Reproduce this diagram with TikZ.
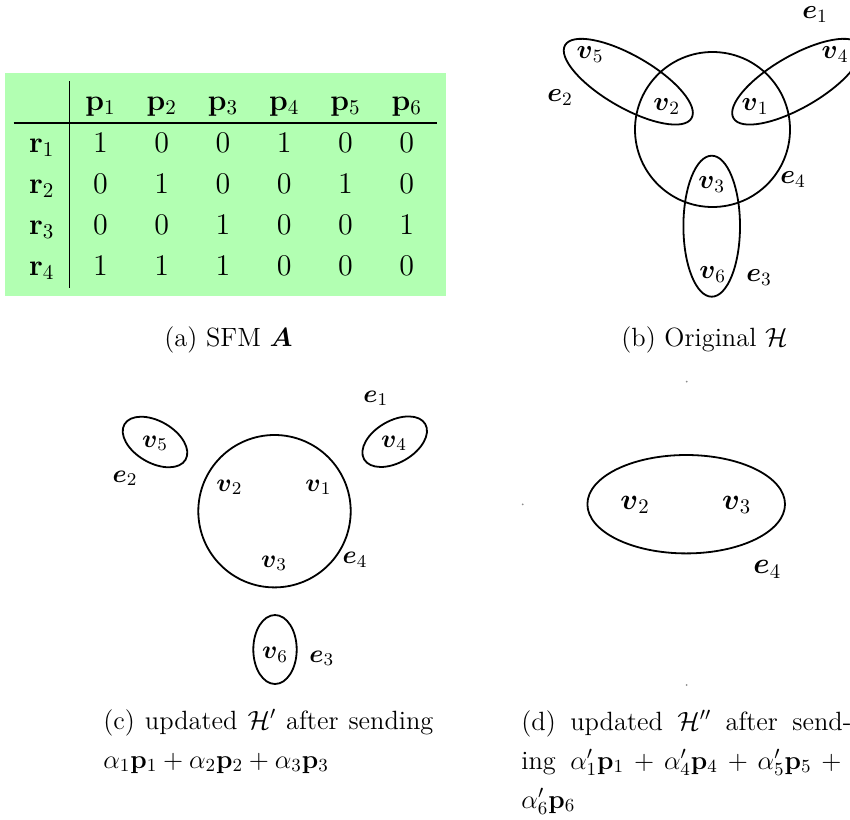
\documentclass[tikz,border=0pt]{standalone}
\usepackage{fix-cm}
\usepackage{amsmath,amssymb}
\usepackage{tikz}
\usepackage{xcolor}
\usetikzlibrary{shapes.geometric}

\begin{document}
\begin{tikzpicture}[x=0.5pt, y=-0.5pt,
    hedge/.style={draw, line width=0.9pt, inner sep=0pt},
    lbl/.style={inner sep=0pt, font=\fontsize{#1}{#1}\selectfont},
    lbl/.default=13.4,
    capline/.style={inner sep=0pt, anchor=base, font=\fontsize{13.2}{19.5}\selectfont},
    captext/.style={inner sep=0pt, anchor=base west, align=justify, text width=165pt, font=\fontsize{13.2}{19.5}\selectfont}]

    \useasboundingbox (0,0) rectangle (850,819);

    % (a) SFM
    \node[fill=green!30, inner sep=4.4pt, font=\fontsize{15}{20.5}\selectfont] (sfm) at (225.5,184.5) {%
      \arraycolsep=7.75pt \arrayrulewidth=0.6pt
      $\begin{array}{c|cccccc}
        & \mathbf{p}_1 & \mathbf{p}_2 & \mathbf{p}_3 & \mathbf{p}_4 & \mathbf{p}_5 & \mathbf{p}_6\\ \hline
        \mathbf{r}_1 & 1 & 0 & 0 & 1 & 0 & 0\\
        \mathbf{r}_2 & 0 & 1 & 0 & 0 & 1 & 0\\
        \mathbf{r}_3 & 0 & 0 & 1 & 0 & 0 & 1\\
        \mathbf{r}_4 & 1 & 1 & 1 & 0 & 0 & 0
      \end{array}$};
    \node[capline] (capa) at (228.5,346) {(a) SFM $\boldsymbol{A}$};

    % (b) original hypergraph
    \node[hedge, circle, minimum size=77.5pt] (be4) at (712.5,129.5) {};
    \node[hedge, ellipse, minimum width=73pt, minimum height=26pt, rotate=-30] (be2) at (628.3,81.7) {};
    \node[hedge, ellipse, minimum width=73pt, minimum height=26pt, rotate=30] (be1) at (796.7,81.7) {};
    \node[hedge, ellipse, minimum width=28.3pt, minimum height=70.5pt] (be3) at (711.7,226.2) {};
    \node[lbl] (bv5) at (590,55) {$\boldsymbol{v}_5$};
    \node[lbl] (bv2) at (666.7,106.7) {$\boldsymbol{v}_2$};
    \node[lbl] (bv1) at (755,106.7) {$\boldsymbol{v}_1$};
    \node[lbl] (bv4) at (835,55) {$\boldsymbol{v}_4$};
    \node[lbl] (bv3) at (711.7,185) {$\boldsymbol{v}_3$};
    \node[lbl] (bv6) at (712.7,275) {$\boldsymbol{v}_6$};
    \node[lbl] (bl1) at (815,15) {$\boldsymbol{e}_1$};
    \node[lbl] (bl2) at (560,98) {$\boldsymbol{e}_2$};
    \node[lbl] (bl4) at (793,180) {$\boldsymbol{e}_4$};
    \node[lbl] (bl3) at (759,278) {$\boldsymbol{e}_3$};
    \node[capline] (capb) at (704.5,346) {(b) Original $\mathcal{H}$};

    % (c) after first round
    \node[hedge, circle, minimum size=76.2pt] (ce4) at (274.5,511.2) {};
    \node[hedge, ellipse, minimum width=35.3pt, minimum height=20.9pt, rotate=-30] (ce2) at (155,442) {};
    \node[hedge, ellipse, minimum width=35.3pt, minimum height=20.9pt, rotate=30] (ce1) at (394.7,441.7) {};
    \node[hedge, ellipse, minimum width=21.7pt, minimum height=34.5pt] (ce3) at (275,649.5) {};
    \node[lbl=12.8] (cv5) at (155,443.3) {$\boldsymbol{v}_5$};
    \node[lbl=12.8] (cv2) at (229.3,487.3) {$\boldsymbol{v}_2$};
    \node[lbl=12.8] (cv1) at (318.3,487.3) {$\boldsymbol{v}_1$};
    \node[lbl=12.8] (cv4) at (394,443.3) {$\boldsymbol{v}_4$};
    \node[lbl=12.8] (cv3) at (274,563.3) {$\boldsymbol{v}_3$};
    \node[lbl=12.8] (cv6) at (275,655) {$\boldsymbol{v}_6$};
    \node[lbl=12.8] (cl1) at (375.7,398.3) {$\boldsymbol{e}_1$};
    \node[lbl=12.8] (cl2) at (125,478.3) {$\boldsymbol{e}_2$};
    \node[lbl=12.8] (cl4) at (355,560) {$\boldsymbol{e}_4$};
    \node[lbl=12.8] (cl3) at (321.7,658.3) {$\boldsymbol{e}_3$};
    \node[captext] (capc) at (103,729) {(c) updated $\mathcal{H}'$ after sending\linebreak
      $\alpha_1\mathbf{p}_1+\alpha_2\mathbf{p}_2+\alpha_3\mathbf{p}_3$};

    % (d) after second round
    \fill[black!45] (686.7,381.7) circle (0.5pt);
    \fill[black!45] (522.7,504.3) circle (0.5pt);
    \fill[black!45] (686.7,685) circle (0.5pt);
    \node[hedge, ellipse, minimum width=98.8pt, minimum height=49.2pt] (de4) at (686.2,504.2) {};
    \node[lbl=14.8] (dv2) at (635,505) {$\boldsymbol{v}_2$};
    \node[lbl=14.8] (dv3) at (736.7,505) {$\boldsymbol{v}_3$};
    \node[lbl=14.8] (dl4) at (767.3,569.3) {$\boldsymbol{e}_4$};
    \node[captext] (capd) at (521,730) {(d) updated $\mathcal{H}''$ after send-\linebreak
      ing $\alpha'_1\mathbf{p}_1+\alpha'_4\mathbf{p}_4+\alpha'_5\mathbf{p}_5+{}$\linebreak
      $\alpha'_6\mathbf{p}_6$};
\end{tikzpicture}
\end{document}
